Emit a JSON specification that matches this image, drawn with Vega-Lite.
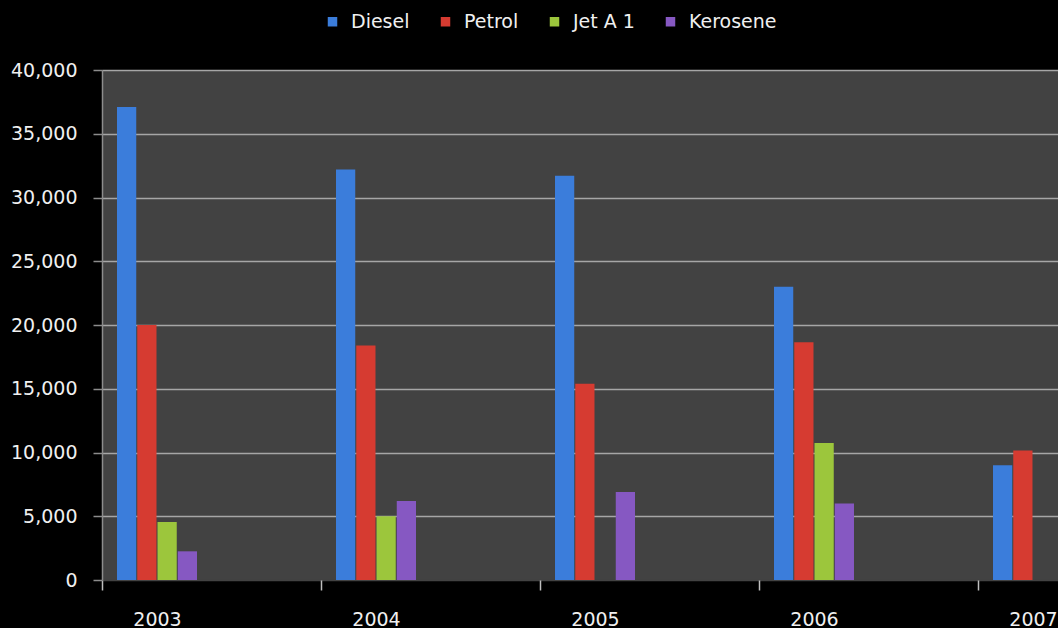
{
  "$schema": "https://vega.github.io/schema/vega-lite/v6.json",
  "width": 956,
  "height": 510,
  "autosize": "none",
  "padding": {"left": 102, "top": 70, "right": 0, "bottom": 48},
  "background": "#000000",
  "config": {
    "view": {"fill": "#424242", "stroke": null},
    "font": "DejaVu Sans"
  },
  "data": {
    "values": [
      {"year": "2003", "fuel": "Diesel", "value": 37100},
      {"year": "2003", "fuel": "Petrol", "value": 20000},
      {"year": "2003", "fuel": "Jet A 1", "value": 4550},
      {"year": "2003", "fuel": "Kerosene", "value": 2250},
      {"year": "2004", "fuel": "Diesel", "value": 32200},
      {"year": "2004", "fuel": "Petrol", "value": 18400},
      {"year": "2004", "fuel": "Jet A 1", "value": 5000},
      {"year": "2004", "fuel": "Kerosene", "value": 6200},
      {"year": "2005", "fuel": "Diesel", "value": 31700},
      {"year": "2005", "fuel": "Petrol", "value": 15400},
      {"year": "2005", "fuel": "Jet A 1", "value": 0},
      {"year": "2005", "fuel": "Kerosene", "value": 6900},
      {"year": "2006", "fuel": "Diesel", "value": 23000},
      {"year": "2006", "fuel": "Petrol", "value": 18650},
      {"year": "2006", "fuel": "Jet A 1", "value": 10750},
      {"year": "2006", "fuel": "Kerosene", "value": 6000},
      {"year": "2007", "fuel": "Diesel", "value": 9000},
      {"year": "2007", "fuel": "Petrol", "value": 10150},
      {"year": "2007", "fuel": "Jet A 1", "value": 0},
      {"year": "2007", "fuel": "Kerosene", "value": 0}
    ]
  },
  "mark": {"type": "bar"},
  "encoding": {
    "x": {
      "field": "year",
      "type": "nominal",
      "sort": null,
      "scale": {"range": [0, 986], "paddingInner": 0.6347, "paddingOuter": 0.0685},
      "axis": {
        "title": null,
        "labelAngle": 0,
        "domain": false,
        "grid": false,
        "ticks": true,
        "tickColor": "#bfbfbf",
        "tickSize": 10,
        "tickWidth": 1.5,
        "tickOffset": -55,
        "labelOffset": 55,
        "labelPadding": 20,
        "labelFontSize": 19,
        "labelColor": "#f0f0f0",
        "labelFont": "DejaVu Sans"
      }
    },
    "xOffset": {
      "field": "fuel",
      "type": "nominal",
      "sort": ["Diesel", "Petrol", "Jet A 1", "Kerosene"],
      "scale": {"paddingInner": 0.05, "paddingOuter": 0}
    },
    "y": {
      "field": "value",
      "type": "quantitative",
      "scale": {"domain": [0, 40000], "nice": false},
      "axis": {
        "title": null,
        "values": [0, 5000, 10000, 15000, 20000, 25000, 30000, 35000, 40000],
        "format": ",d",
        "grid": true,
        "gridColor": {"condition": {"test": "datum.value === 0", "value": "#424242"}, "value": "#a6a6a6"},
        "gridWidth": 1.5,
        "domainColor": "#8c8c8c",
        "domainWidth": 1.5,
        "tickColor": "#8c8c8c",
        "tickSize": 9,
        "tickWidth": 1.5,
        "labelPadding": 16,
        "labelFontSize": 19,
        "labelColor": "#f0f0f0",
        "labelFont": "DejaVu Sans"
      }
    },
    "color": {
      "field": "fuel",
      "type": "nominal",
      "sort": ["Diesel", "Petrol", "Jet A 1", "Kerosene"],
      "scale": {
        "domain": ["Diesel", "Petrol", "Jet A 1", "Kerosene"],
        "range": ["#3b7ddb", "#d63b31", "#9cc63c", "#8658c2"]
      },
      "legend": {
        "title": null,
        "orient": "none",
        "direction": "horizontal",
        "legendX": 221,
        "legendY": -58,
        "padding": 0,
        "symbolType": "square",
        "symbolSize": 90,
        "symbolStrokeWidth": 0,
        "labelFontSize": 19,
        "labelColor": "#f0f0f0",
        "labelFont": "DejaVu Sans",
        "labelOffset": 9,
        "columnPadding": 26
      }
    }
  }
}
